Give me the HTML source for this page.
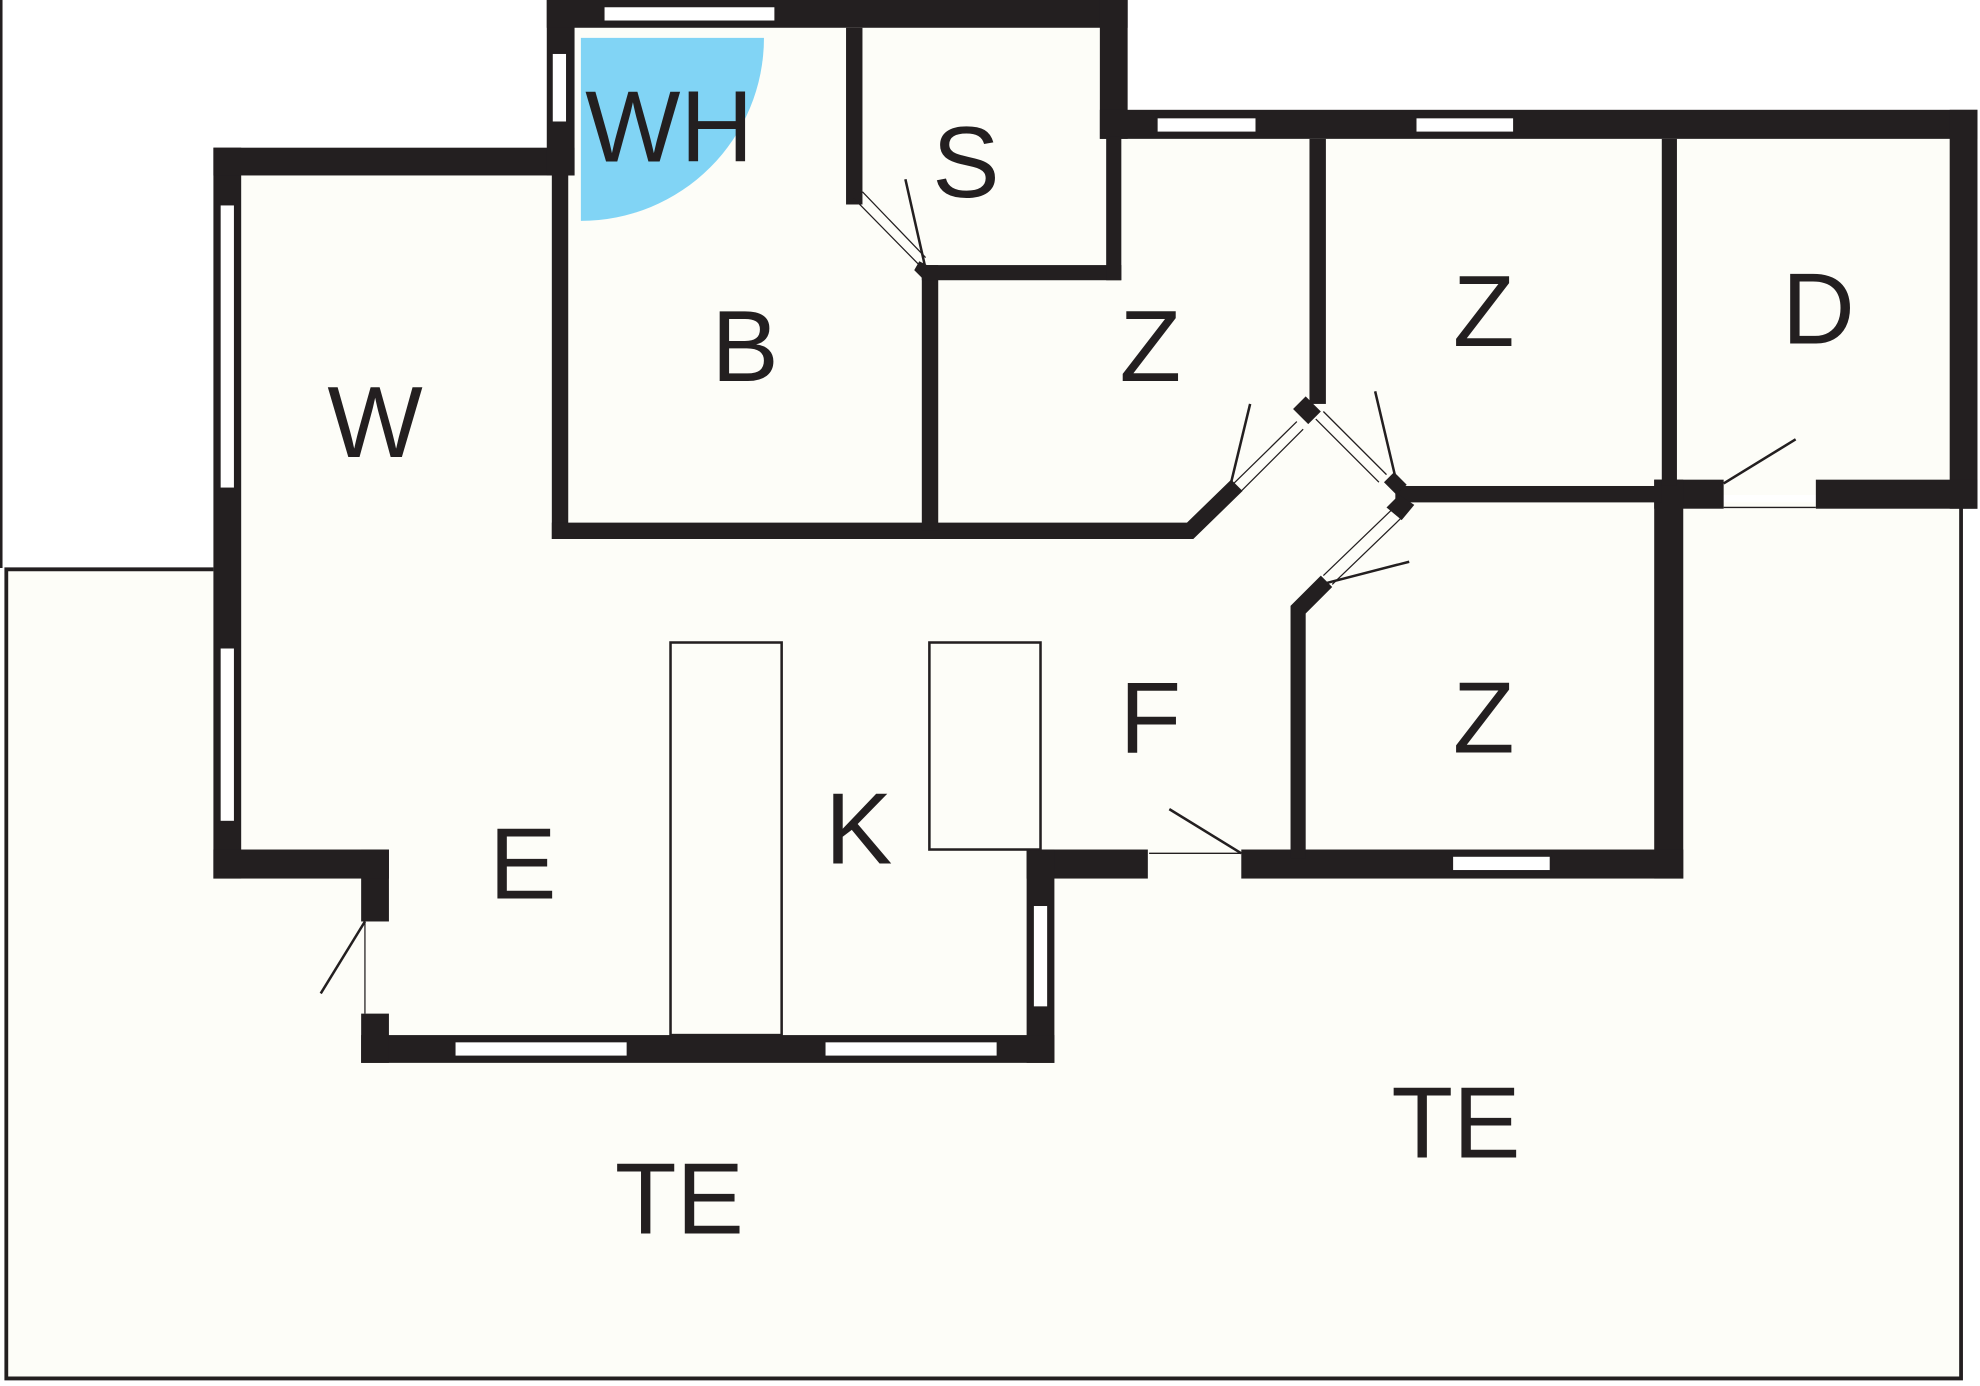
<!DOCTYPE html>
<html><head><meta charset="utf-8"><style>
html,body{margin:0;padding:0;background:#fff;}
svg{display:block;}
text{font-family:"Liberation Sans",sans-serif;font-size:80px;fill:#231f20;text-anchor:middle;}
</style></head><body>
<svg width="1980" height="1386" viewBox="0 0 1568 1098" preserveAspectRatio="none" xmlns="http://www.w3.org/2000/svg">
<rect width="1568" height="1098" fill="#fff"/>
<line x1="1" y1="0" x2="1" y2="450" stroke="#231f20" stroke-width="2"/>
<!-- terrace -->
<path d="M169,451 H5 V1092 H1553 V398 H1333 V451 Z" fill="#fdfdf8"/>
<path d="M169,451 H5 V1092 H1553 V400" fill="none" stroke="#231f20" stroke-width="3"/>
<!-- floor -->
<path d="M180,128 H444 V11 H882 V98 H1555 V392 H1322 V685 H824 V831 H297 V685 H180 Z" fill="#fdfdf8"/>
<path d="M460,30 H605 A145,145 0 0 1 460,175 Z" fill="#81d4f5"/>
<g fill="#231f20">
<rect x="169" y="117" width="22" height="579"/>
<rect x="169" y="117" width="286" height="22"/>
<rect x="433" y="0" width="22" height="139"/>
<rect x="433" y="0" width="460" height="22"/>
<rect x="871" y="0" width="22" height="110"/>
<rect x="871" y="87" width="695" height="23"/>
<rect x="1544" y="87" width="22" height="316"/>
<rect x="1310" y="380" width="55" height="23"/>
<rect x="1438" y="380" width="128" height="23"/>
<rect x="1310" y="380" width="23" height="316"/>
<rect x="983" y="673" width="350" height="23"/>
<rect x="813" y="673" width="96" height="23"/>
<rect x="813" y="673" width="22" height="169"/>
<rect x="286" y="820" width="549" height="22"/>
<rect x="286" y="673" width="22" height="57"/>
<rect x="286" y="803" width="22" height="39"/>
<rect x="169" y="673" width="139" height="23"/>
<rect x="437" y="139" width="13" height="288"/>
<path d="M437,414 H940 L975,380 L984,389 L945,427 H437 Z"/>
<rect x="730" y="210" width="13" height="210"/>
<rect x="730" y="210" width="158" height="12"/>
<rect x="876" y="108" width="12" height="114"/>
<rect x="670" y="22" width="13" height="140"/>
<rect x="1037" y="110" width="13" height="210"/>
<rect x="1316" y="110" width="12" height="275"/>
<rect x="1105" y="385" width="211" height="13"/>
<path d="M1022,480 L1046,456 L1055,465 L1034,486 V680 H1022 Z"/>
<path d="M1024,324 L1034,314 L1046,326 L1036,336 Z"/>
<path d="M1098,402 L1108,392 L1120,400 L1110,412 Z"/>
<path d="M1104,374 L1114,384 L1106,392 L1096,382 Z"/>
<path d="M728,207 L738,212 L732,222 L724,214 Z"/>
</g>
<g fill="#fff" stroke="#231f20" stroke-width="1.5">
<rect x="478" y="5" width="136" height="12"/>
<rect x="437" y="42" width="12" height="55"/>
<rect x="916" y="93" width="79" height="12"/>
<rect x="1121" y="93" width="78" height="12"/>
<rect x="174" y="162" width="12" height="225"/>
<rect x="174" y="513" width="12" height="138"/>
<rect x="360" y="825" width="137" height="12"/>
<rect x="653" y="825" width="137" height="12"/>
<rect x="818" y="717" width="12" height="81"/>
<rect x="1150" y="678" width="78" height="12"/>
</g>
<g fill="none" stroke="#231f20" stroke-width="2">
<rect x="531" y="509" width="88" height="311"/>
<rect x="736" y="509" width="88" height="164"/>
</g>
<g stroke="#231f20" stroke-width="2" fill="none">
<line x1="733" y1="213" x2="717" y2="142"/>
<path d="M676,157 L728,210 M683,152 L733,204" stroke-width="1"/>
<line x1="975" y1="382" x2="990" y2="320"/>
<path d="M975,385 L1027,334 M980,392 L1032,340" stroke-width="1"/>
<line x1="1105" y1="378" x2="1089" y2="310"/>
<path d="M1048,326 L1098,376 M1042,332 L1092,382" stroke-width="1"/>
<line x1="1050" y1="462" x2="1116" y2="445"/>
<path d="M1048,456 L1102,404 M1055,463 L1110,410" stroke-width="1"/>
<line x1="983" y1="676" x2="926" y2="641"/>
<line x1="910" y1="676" x2="983" y2="676" stroke-width="1"/>
<line x1="1365" y1="383" x2="1422" y2="348"/>
<line x1="1365" y1="402" x2="1438" y2="402" stroke-width="1"/>
<line x1="289" y1="730" x2="254" y2="787"/>
<line x1="289" y1="730" x2="289" y2="803" stroke-width="1"/>
</g>
<text x="530" y="128">WH</text>
<text x="765" y="156">S</text>
<text x="590" y="302">B</text>
<text x="297" y="362">W</text>
<text x="911" y="302">Z</text>
<text x="1175" y="274">Z</text>
<text x="1440" y="272">D</text>
<text x="911" y="596">F</text>
<text x="1175" y="596">Z</text>
<text x="680" y="684">K</text>
<text x="414" y="712">E</text>
<text x="538" y="977">TE</text>
<text x="1153" y="917">TE</text>
</svg>
</body></html>
